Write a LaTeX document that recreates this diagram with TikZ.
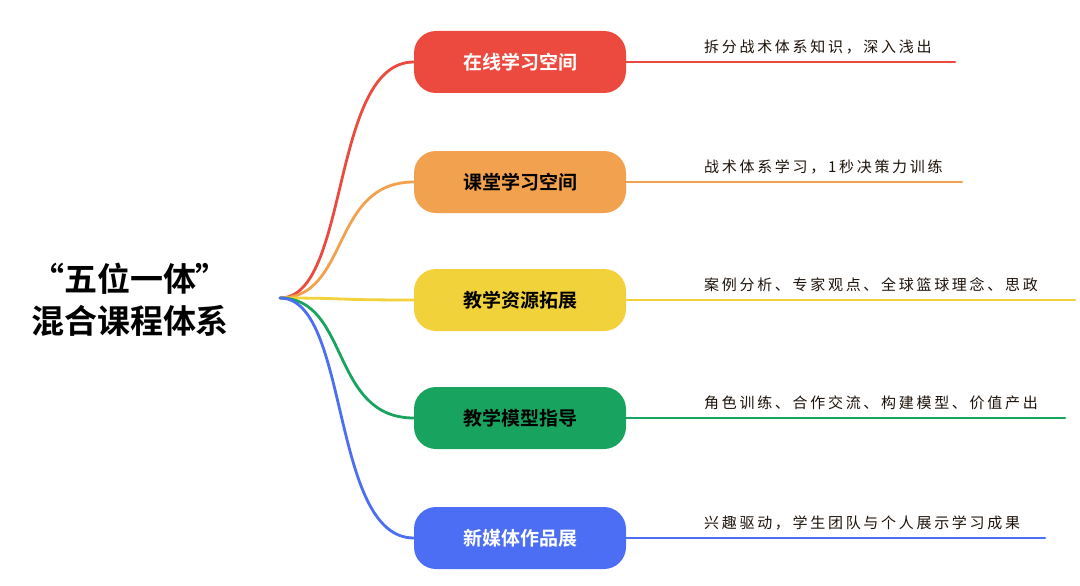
\documentclass[tikz,border=0pt]{standalone}
\usepackage{fontspec}
\setmainfont{Noto Sans CJK SC}[LetterSpace=18]
\newfontfamily\cjkb{Noto Sans CJK SC Bold}
\begin{document}
\begin{tikzpicture}[x=1pt,y=-1pt,
 pill/.style={rounded corners=22pt,minimum width=212pt,minimum height=62pt,font=\cjkb\fontsize{19}{22}\selectfont,inner sep=0pt},
 lbl/.style={anchor=south west,font=\fontsize{15}{17}\selectfont,text=black!85!brown,inner sep=2pt},
 br/.style={line width=2.8pt,line cap=round}]
\useasboundingbox (0,0) rectangle (1080,586);
\definecolor{cr}{HTML}{EC4A3F}\definecolor{co}{HTML}{F2A14E}\definecolor{cy}{HTML}{F1D23A}
\definecolor{cg}{HTML}{18A45E}\definecolor{cb}{HTML}{4B6EF5}
\node[font=\cjkb\fontsize{33}{36}\selectfont,align=center] (root) at (130,300) {“五位一体”\\[6pt]混合课程体系};
\coordinate (o) at (280,298);
\foreach \n/\y/\c/\t/\tc/\e/\l in {
 a/62/cr/在线学习空间/white/955/拆分战术体系知识，深入浅出,
 b/182/co/课堂学习空间/black/962/战术体系学习，1秒决策力训练,
 c/300/cy/教学资源拓展/black/1075/案例分析、专家观点、全球篮球理念、思政,
 d/418/cg/教学模型指导/black/1065/角色训练、合作交流、构建模型、价值产出,
 e/538/cb/新媒体作品展/white/1045/兴趣驱动，学生团队与个人展示学习成果}{
 \node[pill,fill=\c,text=\tc] (\n) at (520,\y) {\t};
 \coordinate (\n e) at (\e,\y);
 \draw[br,draw=\c] (o) .. controls (350,298) and (330,\y) .. (\n.west);
 \draw[br,draw=\c] (\n.east) -- (\n e);
 \node[lbl] (\n l) at (702,\y-6) {\l};
}
\end{tikzpicture}
\end{document}
